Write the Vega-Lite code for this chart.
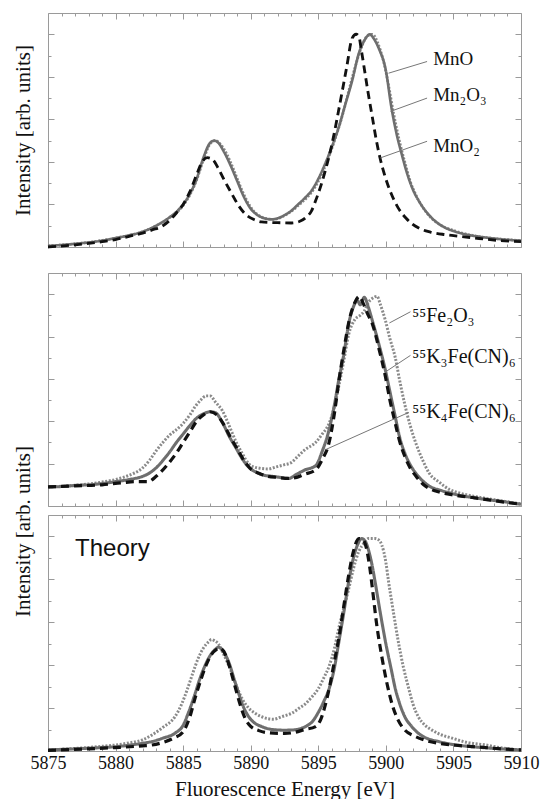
{
  "$schema": "https://vega.github.io/schema/vega-lite/v6.json",
  "background": "white",
  "padding": {"left": 12, "top": 12, "right": 2, "bottom": 2},
  "config": {
    "view": {"stroke": null},
    "axis": {"grid": false, "domainColor": "#9a9a9a", "tickColor": "#9a9a9a", "tickWidth": 1, "domainWidth": 1,
      "labelFont": "Liberation Serif", "titleFont": "Liberation Serif", "titleFontWeight": "normal",
      "titleColor": "#111111", "labelColor": "#111111"}
  },
  "datasets": {
    "top": [
      {"s":"Mn2O3","x":5875,"y":0.005},{"s":"Mn2O3","x":5878,"y":0.022},{"s":"Mn2O3","x":5880,"y":0.042},{"s":"Mn2O3","x":5882,"y":0.072},{"s":"Mn2O3","x":5883,"y":0.1},{"s":"Mn2O3","x":5884,"y":0.138},{"s":"Mn2O3","x":5885,"y":0.195},{"s":"Mn2O3","x":5885.5,"y":0.245},{"s":"Mn2O3","x":5886,"y":0.315},{"s":"Mn2O3","x":5886.5,"y":0.41},{"s":"Mn2O3","x":5887,"y":0.485},{"s":"Mn2O3","x":5887.4,"y":0.5},{"s":"Mn2O3","x":5887.8,"y":0.48},{"s":"Mn2O3","x":5888.2,"y":0.44},{"s":"Mn2O3","x":5888.7,"y":0.37},{"s":"Mn2O3","x":5889.2,"y":0.29},{"s":"Mn2O3","x":5889.7,"y":0.22},{"s":"Mn2O3","x":5890.2,"y":0.17},{"s":"Mn2O3","x":5890.7,"y":0.145},{"s":"Mn2O3","x":5891.2,"y":0.133},{"s":"Mn2O3","x":5891.7,"y":0.13},{"s":"Mn2O3","x":5892.2,"y":0.138},{"s":"Mn2O3","x":5892.7,"y":0.155},{"s":"Mn2O3","x":5893.2,"y":0.178},{"s":"Mn2O3","x":5893.7,"y":0.205},{"s":"Mn2O3","x":5894.2,"y":0.235},{"s":"Mn2O3","x":5894.7,"y":0.275},{"s":"Mn2O3","x":5895.2,"y":0.335},{"s":"Mn2O3","x":5895.7,"y":0.41},{"s":"Mn2O3","x":5896.2,"y":0.5},{"s":"Mn2O3","x":5896.7,"y":0.6},{"s":"Mn2O3","x":5897.2,"y":0.72},{"s":"Mn2O3","x":5897.7,"y":0.84},{"s":"Mn2O3","x":5898.2,"y":0.94},{"s":"Mn2O3","x":5898.6,"y":0.99},{"s":"Mn2O3","x":5899,"y":1.0},{"s":"Mn2O3","x":5899.4,"y":0.96},{"s":"Mn2O3","x":5899.8,"y":0.88},{"s":"Mn2O3","x":5900.2,"y":0.76},{"s":"Mn2O3","x":5900.6,"y":0.62},{"s":"Mn2O3","x":5901,"y":0.5},{"s":"Mn2O3","x":5901.4,"y":0.4},{"s":"Mn2O3","x":5901.8,"y":0.31},{"s":"Mn2O3","x":5902.3,"y":0.235},{"s":"Mn2O3","x":5902.8,"y":0.18},{"s":"Mn2O3","x":5903.3,"y":0.14},{"s":"Mn2O3","x":5904,"y":0.105},{"s":"Mn2O3","x":5905,"y":0.078},{"s":"Mn2O3","x":5906,"y":0.06},{"s":"Mn2O3","x":5907,"y":0.048},{"s":"Mn2O3","x":5908,"y":0.04},{"s":"Mn2O3","x":5910,"y":0.03},
      {"s":"MnO","x":5875,"y":0.005},{"s":"MnO","x":5877,"y":0.015},{"s":"MnO","x":5879,"y":0.03},{"s":"MnO","x":5880,"y":0.042},{"s":"MnO","x":5881,"y":0.055},{"s":"MnO","x":5882,"y":0.072},{"s":"MnO","x":5883,"y":0.1},{"s":"MnO","x":5884,"y":0.14},{"s":"MnO","x":5884.5,"y":0.165},{"s":"MnO","x":5885,"y":0.2},{"s":"MnO","x":5885.5,"y":0.25},{"s":"MnO","x":5886,"y":0.32},{"s":"MnO","x":5886.5,"y":0.42},{"s":"MnO","x":5887,"y":0.49},{"s":"MnO","x":5887.3,"y":0.5},{"s":"MnO","x":5887.6,"y":0.49},{"s":"MnO","x":5888,"y":0.45},{"s":"MnO","x":5888.5,"y":0.385},{"s":"MnO","x":5889,"y":0.31},{"s":"MnO","x":5889.5,"y":0.235},{"s":"MnO","x":5890,"y":0.18},{"s":"MnO","x":5890.5,"y":0.15},{"s":"MnO","x":5891,"y":0.135},{"s":"MnO","x":5891.5,"y":0.13},{"s":"MnO","x":5892,"y":0.135},{"s":"MnO","x":5892.5,"y":0.15},{"s":"MnO","x":5893,"y":0.17},{"s":"MnO","x":5893.5,"y":0.2},{"s":"MnO","x":5894,"y":0.23},{"s":"MnO","x":5894.5,"y":0.265},{"s":"MnO","x":5895,"y":0.32},{"s":"MnO","x":5895.5,"y":0.39},{"s":"MnO","x":5896,"y":0.47},{"s":"MnO","x":5896.5,"y":0.56},{"s":"MnO","x":5897,"y":0.67},{"s":"MnO","x":5897.5,"y":0.78},{"s":"MnO","x":5898,"y":0.91},{"s":"MnO","x":5898.5,"y":0.98},{"s":"MnO","x":5898.8,"y":1.0},{"s":"MnO","x":5899.1,"y":0.98},{"s":"MnO","x":5899.5,"y":0.93},{"s":"MnO","x":5900,"y":0.83},{"s":"MnO","x":5900.4,"y":0.66},{"s":"MnO","x":5900.8,"y":0.53},{"s":"MnO","x":5901.2,"y":0.43},{"s":"MnO","x":5901.6,"y":0.34},{"s":"MnO","x":5902,"y":0.27},{"s":"MnO","x":5902.5,"y":0.21},{"s":"MnO","x":5903,"y":0.165},{"s":"MnO","x":5903.5,"y":0.13},{"s":"MnO","x":5904,"y":0.105},{"s":"MnO","x":5904.5,"y":0.087},{"s":"MnO","x":5905,"y":0.075},{"s":"MnO","x":5906,"y":0.058},{"s":"MnO","x":5907,"y":0.048},{"s":"MnO","x":5908,"y":0.04},{"s":"MnO","x":5909,"y":0.034},{"s":"MnO","x":5910,"y":0.03},
      {"s":"MnO2","x":5875,"y":0.0},{"s":"MnO2","x":5877,"y":0.01},{"s":"MnO2","x":5879,"y":0.025},{"s":"MnO2","x":5880,"y":0.035},{"s":"MnO2","x":5881,"y":0.05},{"s":"MnO2","x":5882,"y":0.065},{"s":"MnO2","x":5882.7,"y":0.08},{"s":"MnO2","x":5883.5,"y":0.1},{"s":"MnO2","x":5884,"y":0.125},{"s":"MnO2","x":5884.5,"y":0.16},{"s":"MnO2","x":5885,"y":0.2},{"s":"MnO2","x":5885.5,"y":0.26},{"s":"MnO2","x":5886,"y":0.34},{"s":"MnO2","x":5886.4,"y":0.4},{"s":"MnO2","x":5886.8,"y":0.42},{"s":"MnO2","x":5887.2,"y":0.41},{"s":"MnO2","x":5887.6,"y":0.37},{"s":"MnO2","x":5888,"y":0.32},{"s":"MnO2","x":5888.6,"y":0.25},{"s":"MnO2","x":5889.1,"y":0.195},{"s":"MnO2","x":5889.6,"y":0.155},{"s":"MnO2","x":5890.2,"y":0.13},{"s":"MnO2","x":5890.8,"y":0.118},{"s":"MnO2","x":5891.5,"y":0.115},{"s":"MnO2","x":5892.2,"y":0.114},{"s":"MnO2","x":5893,"y":0.113},{"s":"MnO2","x":5893.6,"y":0.12},{"s":"MnO2","x":5894.1,"y":0.14},{"s":"MnO2","x":5894.5,"y":0.17},{"s":"MnO2","x":5894.8,"y":0.217},{"s":"MnO2","x":5895.2,"y":0.29},{"s":"MnO2","x":5895.65,"y":0.39},{"s":"MnO2","x":5896,"y":0.48},{"s":"MnO2","x":5896.5,"y":0.64},{"s":"MnO2","x":5897.1,"y":0.845},{"s":"MnO2","x":5897.5,"y":0.98},{"s":"MnO2","x":5897.8,"y":1.0},{"s":"MnO2","x":5898,"y":0.99},{"s":"MnO2","x":5898.2,"y":0.92},{"s":"MnO2","x":5898.5,"y":0.8},{"s":"MnO2","x":5898.7,"y":0.72},{"s":"MnO2","x":5899,"y":0.61},{"s":"MnO2","x":5899.3,"y":0.5},{"s":"MnO2","x":5899.6,"y":0.41},{"s":"MnO2","x":5899.95,"y":0.33},{"s":"MnO2","x":5900.4,"y":0.25},{"s":"MnO2","x":5900.9,"y":0.185},{"s":"MnO2","x":5901.5,"y":0.135},{"s":"MnO2","x":5902.4,"y":0.09},{"s":"MnO2","x":5903.3,"y":0.07},{"s":"MnO2","x":5904.4,"y":0.058},{"s":"MnO2","x":5905.5,"y":0.05},{"s":"MnO2","x":5906.9,"y":0.04},{"s":"MnO2","x":5908.5,"y":0.03},{"s":"MnO2","x":5910,"y":0.025}
    ],
    "mid": [
      {"s":"Fe2O3","x":5875,"y":0.09},{"s":"Fe2O3","x":5876,"y":0.093},{"s":"Fe2O3","x":5877,"y":0.098},{"s":"Fe2O3","x":5878,"y":0.104},{"s":"Fe2O3","x":5879,"y":0.113},{"s":"Fe2O3","x":5880,"y":0.125},{"s":"Fe2O3","x":5881,"y":0.145},{"s":"Fe2O3","x":5882,"y":0.18},{"s":"Fe2O3","x":5882.5,"y":0.215},{"s":"Fe2O3","x":5883,"y":0.26},{"s":"Fe2O3","x":5883.5,"y":0.3},{"s":"Fe2O3","x":5884,"y":0.335},{"s":"Fe2O3","x":5884.5,"y":0.36},{"s":"Fe2O3","x":5885,"y":0.39},{"s":"Fe2O3","x":5885.5,"y":0.43},{"s":"Fe2O3","x":5885.9,"y":0.47},{"s":"Fe2O3","x":5886.3,"y":0.5},{"s":"Fe2O3","x":5886.7,"y":0.52},{"s":"Fe2O3","x":5887,"y":0.52},{"s":"Fe2O3","x":5887.4,"y":0.49},{"s":"Fe2O3","x":5887.9,"y":0.45},{"s":"Fe2O3","x":5888.4,"y":0.38},{"s":"Fe2O3","x":5888.9,"y":0.305},{"s":"Fe2O3","x":5889.4,"y":0.245},{"s":"Fe2O3","x":5889.85,"y":0.2},{"s":"Fe2O3","x":5890.5,"y":0.18},{"s":"Fe2O3","x":5891.3,"y":0.175},{"s":"Fe2O3","x":5891.9,"y":0.185},{"s":"Fe2O3","x":5892.5,"y":0.195},{"s":"Fe2O3","x":5893,"y":0.205},{"s":"Fe2O3","x":5893.5,"y":0.235},{"s":"Fe2O3","x":5894,"y":0.265},{"s":"Fe2O3","x":5894.8,"y":0.3},{"s":"Fe2O3","x":5895.3,"y":0.34},{"s":"Fe2O3","x":5895.8,"y":0.39},{"s":"Fe2O3","x":5896.2,"y":0.47},{"s":"Fe2O3","x":5896.5,"y":0.56},{"s":"Fe2O3","x":5896.9,"y":0.69},{"s":"Fe2O3","x":5897.25,"y":0.81},{"s":"Fe2O3","x":5897.7,"y":0.88},{"s":"Fe2O3","x":5898.1,"y":0.9},{"s":"Fe2O3","x":5898.4,"y":0.92},{"s":"Fe2O3","x":5898.7,"y":0.96},{"s":"Fe2O3","x":5899,"y":0.98},{"s":"Fe2O3","x":5899.35,"y":0.99},{"s":"Fe2O3","x":5899.6,"y":0.95},{"s":"Fe2O3","x":5899.97,"y":0.875},{"s":"Fe2O3","x":5900.3,"y":0.79},{"s":"Fe2O3","x":5900.7,"y":0.7},{"s":"Fe2O3","x":5901,"y":0.6},{"s":"Fe2O3","x":5901.4,"y":0.48},{"s":"Fe2O3","x":5901.8,"y":0.38},{"s":"Fe2O3","x":5902.2,"y":0.3},{"s":"Fe2O3","x":5902.7,"y":0.22},{"s":"Fe2O3","x":5903.2,"y":0.156},{"s":"Fe2O3","x":5904,"y":0.11},{"s":"Fe2O3","x":5904.7,"y":0.078},{"s":"Fe2O3","x":5905.5,"y":0.06},{"s":"Fe2O3","x":5906.4,"y":0.047},{"s":"Fe2O3","x":5907.5,"y":0.035},{"s":"Fe2O3","x":5908.8,"y":0.022},{"s":"Fe2O3","x":5910,"y":0.01},
      {"s":"K3Fe(CN)6","x":5875,"y":0.09},{"s":"K3Fe(CN)6","x":5876,"y":0.092},{"s":"K3Fe(CN)6","x":5877,"y":0.097},{"s":"K3Fe(CN)6","x":5878,"y":0.1},{"s":"K3Fe(CN)6","x":5879,"y":0.106},{"s":"K3Fe(CN)6","x":5880,"y":0.115},{"s":"K3Fe(CN)6","x":5881,"y":0.125},{"s":"K3Fe(CN)6","x":5882,"y":0.14},{"s":"K3Fe(CN)6","x":5882.5,"y":0.155},{"s":"K3Fe(CN)6","x":5883,"y":0.18},{"s":"K3Fe(CN)6","x":5883.5,"y":0.215},{"s":"K3Fe(CN)6","x":5884,"y":0.255},{"s":"K3Fe(CN)6","x":5884.5,"y":0.3},{"s":"K3Fe(CN)6","x":5885,"y":0.34},{"s":"K3Fe(CN)6","x":5885.5,"y":0.38},{"s":"K3Fe(CN)6","x":5886,"y":0.415},{"s":"K3Fe(CN)6","x":5886.5,"y":0.435},{"s":"K3Fe(CN)6","x":5887,"y":0.445},{"s":"K3Fe(CN)6","x":5887.4,"y":0.44},{"s":"K3Fe(CN)6","x":5887.9,"y":0.395},{"s":"K3Fe(CN)6","x":5888.4,"y":0.33},{"s":"K3Fe(CN)6","x":5888.9,"y":0.275},{"s":"K3Fe(CN)6","x":5889.4,"y":0.22},{"s":"K3Fe(CN)6","x":5889.9,"y":0.18},{"s":"K3Fe(CN)6","x":5890.4,"y":0.16},{"s":"K3Fe(CN)6","x":5891,"y":0.145},{"s":"K3Fe(CN)6","x":5891.6,"y":0.14},{"s":"K3Fe(CN)6","x":5892.2,"y":0.135},{"s":"K3Fe(CN)6","x":5892.8,"y":0.13},{"s":"K3Fe(CN)6","x":5893.4,"y":0.15},{"s":"K3Fe(CN)6","x":5894,"y":0.17},{"s":"K3Fe(CN)6","x":5894.8,"y":0.19},{"s":"K3Fe(CN)6","x":5895.3,"y":0.26},{"s":"K3Fe(CN)6","x":5895.8,"y":0.36},{"s":"K3Fe(CN)6","x":5896.2,"y":0.48},{"s":"K3Fe(CN)6","x":5896.5,"y":0.59},{"s":"K3Fe(CN)6","x":5896.9,"y":0.72},{"s":"K3Fe(CN)6","x":5897.25,"y":0.86},{"s":"K3Fe(CN)6","x":5897.6,"y":0.94},{"s":"K3Fe(CN)6","x":5897.9,"y":0.97},{"s":"K3Fe(CN)6","x":5898.1,"y":0.95},{"s":"K3Fe(CN)6","x":5898.4,"y":0.985},{"s":"K3Fe(CN)6","x":5898.7,"y":0.94},{"s":"K3Fe(CN)6","x":5899,"y":0.875},{"s":"K3Fe(CN)6","x":5899.5,"y":0.76},{"s":"K3Fe(CN)6","x":5899.97,"y":0.64},{"s":"K3Fe(CN)6","x":5900.3,"y":0.54},{"s":"K3Fe(CN)6","x":5900.7,"y":0.42},{"s":"K3Fe(CN)6","x":5901,"y":0.33},{"s":"K3Fe(CN)6","x":5901.4,"y":0.25},{"s":"K3Fe(CN)6","x":5901.8,"y":0.195},{"s":"K3Fe(CN)6","x":5902.2,"y":0.156},{"s":"K3Fe(CN)6","x":5902.7,"y":0.12},{"s":"K3Fe(CN)6","x":5903.2,"y":0.094},{"s":"K3Fe(CN)6","x":5904,"y":0.075},{"s":"K3Fe(CN)6","x":5904.7,"y":0.0625},{"s":"K3Fe(CN)6","x":5905.5,"y":0.05},{"s":"K3Fe(CN)6","x":5906.4,"y":0.04},{"s":"K3Fe(CN)6","x":5907.5,"y":0.03},{"s":"K3Fe(CN)6","x":5908.85,"y":0.019},{"s":"K3Fe(CN)6","x":5910,"y":0.008},
      {"s":"K4Fe(CN)6","x":5875,"y":0.09},{"s":"K4Fe(CN)6","x":5877,"y":0.095},{"s":"K4Fe(CN)6","x":5879,"y":0.1},{"s":"K4Fe(CN)6","x":5880.5,"y":0.11},{"s":"K4Fe(CN)6","x":5881.5,"y":0.115},{"s":"K4Fe(CN)6","x":5882.4,"y":0.115},{"s":"K4Fe(CN)6","x":5883,"y":0.14},{"s":"K4Fe(CN)6","x":5883.9,"y":0.2},{"s":"K4Fe(CN)6","x":5884.5,"y":0.25},{"s":"K4Fe(CN)6","x":5885,"y":0.3},{"s":"K4Fe(CN)6","x":5885.5,"y":0.35},{"s":"K4Fe(CN)6","x":5886,"y":0.4},{"s":"K4Fe(CN)6","x":5886.5,"y":0.43},{"s":"K4Fe(CN)6","x":5887,"y":0.445},{"s":"K4Fe(CN)6","x":5887.5,"y":0.43},{"s":"K4Fe(CN)6","x":5888,"y":0.385},{"s":"K4Fe(CN)6","x":5888.5,"y":0.325},{"s":"K4Fe(CN)6","x":5889,"y":0.27},{"s":"K4Fe(CN)6","x":5889.5,"y":0.215},{"s":"K4Fe(CN)6","x":5890,"y":0.175},{"s":"K4Fe(CN)6","x":5890.6,"y":0.155},{"s":"K4Fe(CN)6","x":5891.3,"y":0.14},{"s":"K4Fe(CN)6","x":5892,"y":0.135},{"s":"K4Fe(CN)6","x":5892.8,"y":0.13},{"s":"K4Fe(CN)6","x":5893.4,"y":0.135},{"s":"K4Fe(CN)6","x":5894,"y":0.15},{"s":"K4Fe(CN)6","x":5894.8,"y":0.17},{"s":"K4Fe(CN)6","x":5895.3,"y":0.22},{"s":"K4Fe(CN)6","x":5895.8,"y":0.3},{"s":"K4Fe(CN)6","x":5896.2,"y":0.44},{"s":"K4Fe(CN)6","x":5896.5,"y":0.58},{"s":"K4Fe(CN)6","x":5896.9,"y":0.74},{"s":"K4Fe(CN)6","x":5897.3,"y":0.88},{"s":"K4Fe(CN)6","x":5897.7,"y":0.96},{"s":"K4Fe(CN)6","x":5898.05,"y":0.99},{"s":"K4Fe(CN)6","x":5898.3,"y":0.96},{"s":"K4Fe(CN)6","x":5898.7,"y":0.9},{"s":"K4Fe(CN)6","x":5899,"y":0.86},{"s":"K4Fe(CN)6","x":5899.5,"y":0.74},{"s":"K4Fe(CN)6","x":5899.97,"y":0.61},{"s":"K4Fe(CN)6","x":5900.3,"y":0.5},{"s":"K4Fe(CN)6","x":5900.7,"y":0.39},{"s":"K4Fe(CN)6","x":5901,"y":0.31},{"s":"K4Fe(CN)6","x":5901.4,"y":0.235},{"s":"K4Fe(CN)6","x":5901.8,"y":0.18},{"s":"K4Fe(CN)6","x":5902.3,"y":0.135},{"s":"K4Fe(CN)6","x":5902.8,"y":0.1},{"s":"K4Fe(CN)6","x":5903.3,"y":0.08},{"s":"K4Fe(CN)6","x":5904,"y":0.065},{"s":"K4Fe(CN)6","x":5905,"y":0.052},{"s":"K4Fe(CN)6","x":5906.4,"y":0.04},{"s":"K4Fe(CN)6","x":5907.5,"y":0.03},{"s":"K4Fe(CN)6","x":5908.8,"y":0.018},{"s":"K4Fe(CN)6","x":5910,"y":0.008}
    ],
    "bot": [
      {"s":"Fe2O3","x":5875,"y":0.005},{"s":"Fe2O3","x":5877,"y":0.012},{"s":"Fe2O3","x":5879,"y":0.022},{"s":"Fe2O3","x":5880,"y":0.028},{"s":"Fe2O3","x":5881,"y":0.038},{"s":"Fe2O3","x":5882,"y":0.052},{"s":"Fe2O3","x":5882.7,"y":0.075},{"s":"Fe2O3","x":5883.5,"y":0.11},{"s":"Fe2O3","x":5884.4,"y":0.16},{"s":"Fe2O3","x":5884.9,"y":0.22},{"s":"Fe2O3","x":5885.3,"y":0.286},{"s":"Fe2O3","x":5885.7,"y":0.36},{"s":"Fe2O3","x":5886.1,"y":0.43},{"s":"Fe2O3","x":5886.5,"y":0.48},{"s":"Fe2O3","x":5886.9,"y":0.51},{"s":"Fe2O3","x":5887.1,"y":0.52},{"s":"Fe2O3","x":5887.3,"y":0.515},{"s":"Fe2O3","x":5887.6,"y":0.5},{"s":"Fe2O3","x":5888,"y":0.45},{"s":"Fe2O3","x":5888.4,"y":0.395},{"s":"Fe2O3","x":5888.9,"y":0.31},{"s":"Fe2O3","x":5889.4,"y":0.24},{"s":"Fe2O3","x":5889.85,"y":0.2},{"s":"Fe2O3","x":5890.3,"y":0.177},{"s":"Fe2O3","x":5890.8,"y":0.16},{"s":"Fe2O3","x":5891.3,"y":0.15},{"s":"Fe2O3","x":5891.7,"y":0.148},{"s":"Fe2O3","x":5892.3,"y":0.16},{"s":"Fe2O3","x":5893.06,"y":0.177},{"s":"Fe2O3","x":5893.6,"y":0.2},{"s":"Fe2O3","x":5894.05,"y":0.22},{"s":"Fe2O3","x":5894.5,"y":0.25},{"s":"Fe2O3","x":5895,"y":0.29},{"s":"Fe2O3","x":5895.4,"y":0.34},{"s":"Fe2O3","x":5895.8,"y":0.395},{"s":"Fe2O3","x":5896.2,"y":0.48},{"s":"Fe2O3","x":5896.5,"y":0.567},{"s":"Fe2O3","x":5896.9,"y":0.67},{"s":"Fe2O3","x":5897.25,"y":0.755},{"s":"Fe2O3","x":5897.6,"y":0.85},{"s":"Fe2O3","x":5898,"y":0.93},{"s":"Fe2O3","x":5898.4,"y":0.97},{"s":"Fe2O3","x":5898.7,"y":0.99},{"s":"Fe2O3","x":5899.2,"y":0.99},{"s":"Fe2O3","x":5899.45,"y":0.985},{"s":"Fe2O3","x":5899.7,"y":0.96},{"s":"Fe2O3","x":5900,"y":0.88},{"s":"Fe2O3","x":5900.2,"y":0.79},{"s":"Fe2O3","x":5900.5,"y":0.67},{"s":"Fe2O3","x":5900.95,"y":0.5},{"s":"Fe2O3","x":5901.3,"y":0.39},{"s":"Fe2O3","x":5901.7,"y":0.29},{"s":"Fe2O3","x":5902,"y":0.22},{"s":"Fe2O3","x":5902.4,"y":0.16},{"s":"Fe2O3","x":5902.9,"y":0.12},{"s":"Fe2O3","x":5903.4,"y":0.098},{"s":"Fe2O3","x":5904,"y":0.078},{"s":"Fe2O3","x":5904.9,"y":0.06},{"s":"Fe2O3","x":5906,"y":0.04},{"s":"Fe2O3","x":5907.4,"y":0.028},{"s":"Fe2O3","x":5908.5,"y":0.015},{"s":"Fe2O3","x":5910,"y":0.005},
      {"s":"K3Fe(CN)6","x":5875,"y":0.005},{"s":"K3Fe(CN)6","x":5877,"y":0.01},{"s":"K3Fe(CN)6","x":5879,"y":0.016},{"s":"K3Fe(CN)6","x":5880,"y":0.02},{"s":"K3Fe(CN)6","x":5881,"y":0.027},{"s":"K3Fe(CN)6","x":5882,"y":0.036},{"s":"K3Fe(CN)6","x":5882.7,"y":0.044},{"s":"K3Fe(CN)6","x":5883.5,"y":0.06},{"s":"K3Fe(CN)6","x":5884.4,"y":0.083},{"s":"K3Fe(CN)6","x":5885,"y":0.12},{"s":"K3Fe(CN)6","x":5885.4,"y":0.18},{"s":"K3Fe(CN)6","x":5885.9,"y":0.27},{"s":"K3Fe(CN)6","x":5886.2,"y":0.33},{"s":"K3Fe(CN)6","x":5886.6,"y":0.395},{"s":"K3Fe(CN)6","x":5887,"y":0.445},{"s":"K3Fe(CN)6","x":5887.4,"y":0.475},{"s":"K3Fe(CN)6","x":5887.6,"y":0.484},{"s":"K3Fe(CN)6","x":5887.9,"y":0.47},{"s":"K3Fe(CN)6","x":5888.4,"y":0.41},{"s":"K3Fe(CN)6","x":5888.8,"y":0.33},{"s":"K3Fe(CN)6","x":5889.1,"y":0.27},{"s":"K3Fe(CN)6","x":5889.5,"y":0.2},{"s":"K3Fe(CN)6","x":5889.85,"y":0.16},{"s":"K3Fe(CN)6","x":5890.3,"y":0.13},{"s":"K3Fe(CN)6","x":5890.8,"y":0.114},{"s":"K3Fe(CN)6","x":5891.6,"y":0.1},{"s":"K3Fe(CN)6","x":5892.5,"y":0.097},{"s":"K3Fe(CN)6","x":5893.1,"y":0.098},{"s":"K3Fe(CN)6","x":5894.05,"y":0.114},{"s":"K3Fe(CN)6","x":5894.6,"y":0.14},{"s":"K3Fe(CN)6","x":5895,"y":0.18},{"s":"K3Fe(CN)6","x":5895.4,"y":0.23},{"s":"K3Fe(CN)6","x":5895.8,"y":0.29},{"s":"K3Fe(CN)6","x":5896.2,"y":0.39},{"s":"K3Fe(CN)6","x":5896.5,"y":0.5},{"s":"K3Fe(CN)6","x":5896.9,"y":0.65},{"s":"K3Fe(CN)6","x":5897.25,"y":0.79},{"s":"K3Fe(CN)6","x":5897.6,"y":0.9},{"s":"K3Fe(CN)6","x":5897.9,"y":0.96},{"s":"K3Fe(CN)6","x":5898.2,"y":0.99},{"s":"K3Fe(CN)6","x":5898.5,"y":0.975},{"s":"K3Fe(CN)6","x":5898.7,"y":0.94},{"s":"K3Fe(CN)6","x":5899,"y":0.86},{"s":"K3Fe(CN)6","x":5899.2,"y":0.79},{"s":"K3Fe(CN)6","x":5899.6,"y":0.64},{"s":"K3Fe(CN)6","x":5900,"y":0.5},{"s":"K3Fe(CN)6","x":5900.4,"y":0.38},{"s":"K3Fe(CN)6","x":5900.7,"y":0.29},{"s":"K3Fe(CN)6","x":5901,"y":0.225},{"s":"K3Fe(CN)6","x":5901.4,"y":0.16},{"s":"K3Fe(CN)6","x":5901.9,"y":0.115},{"s":"K3Fe(CN)6","x":5902.4,"y":0.083},{"s":"K3Fe(CN)6","x":5903,"y":0.06},{"s":"K3Fe(CN)6","x":5903.9,"y":0.044},{"s":"K3Fe(CN)6","x":5905,"y":0.03},{"s":"K3Fe(CN)6","x":5906.4,"y":0.02},{"s":"K3Fe(CN)6","x":5908,"y":0.012},{"s":"K3Fe(CN)6","x":5910,"y":0.005},
      {"s":"K4Fe(CN)6","x":5875,"y":0.003},{"s":"K4Fe(CN)6","x":5878,"y":0.01},{"s":"K4Fe(CN)6","x":5880,"y":0.016},{"s":"K4Fe(CN)6","x":5882,"y":0.024},{"s":"K4Fe(CN)6","x":5882.7,"y":0.028},{"s":"K4Fe(CN)6","x":5883.5,"y":0.04},{"s":"K4Fe(CN)6","x":5884.3,"y":0.06},{"s":"K4Fe(CN)6","x":5885,"y":0.09},{"s":"K4Fe(CN)6","x":5885.5,"y":0.16},{"s":"K4Fe(CN)6","x":5885.9,"y":0.25},{"s":"K4Fe(CN)6","x":5886.3,"y":0.33},{"s":"K4Fe(CN)6","x":5886.7,"y":0.4},{"s":"K4Fe(CN)6","x":5887.1,"y":0.45},{"s":"K4Fe(CN)6","x":5887.5,"y":0.475},{"s":"K4Fe(CN)6","x":5887.7,"y":0.48},{"s":"K4Fe(CN)6","x":5888,"y":0.465},{"s":"K4Fe(CN)6","x":5888.4,"y":0.4},{"s":"K4Fe(CN)6","x":5888.8,"y":0.31},{"s":"K4Fe(CN)6","x":5889.2,"y":0.22},{"s":"K4Fe(CN)6","x":5889.6,"y":0.15},{"s":"K4Fe(CN)6","x":5890,"y":0.115},{"s":"K4Fe(CN)6","x":5890.6,"y":0.095},{"s":"K4Fe(CN)6","x":5891.3,"y":0.085},{"s":"K4Fe(CN)6","x":5892.5,"y":0.082},{"s":"K4Fe(CN)6","x":5893.1,"y":0.085},{"s":"K4Fe(CN)6","x":5894,"y":0.1},{"s":"K4Fe(CN)6","x":5894.8,"y":0.114},{"s":"K4Fe(CN)6","x":5895.2,"y":0.15},{"s":"K4Fe(CN)6","x":5895.5,"y":0.21},{"s":"K4Fe(CN)6","x":5895.9,"y":0.32},{"s":"K4Fe(CN)6","x":5896.2,"y":0.42},{"s":"K4Fe(CN)6","x":5896.5,"y":0.52},{"s":"K4Fe(CN)6","x":5896.9,"y":0.68},{"s":"K4Fe(CN)6","x":5897.25,"y":0.82},{"s":"K4Fe(CN)6","x":5897.6,"y":0.93},{"s":"K4Fe(CN)6","x":5898,"y":0.99},{"s":"K4Fe(CN)6","x":5898.3,"y":0.985},{"s":"K4Fe(CN)6","x":5898.5,"y":0.96},{"s":"K4Fe(CN)6","x":5898.8,"y":0.86},{"s":"K4Fe(CN)6","x":5899,"y":0.76},{"s":"K4Fe(CN)6","x":5899.3,"y":0.6},{"s":"K4Fe(CN)6","x":5899.7,"y":0.44},{"s":"K4Fe(CN)6","x":5900.1,"y":0.31},{"s":"K4Fe(CN)6","x":5900.5,"y":0.21},{"s":"K4Fe(CN)6","x":5900.9,"y":0.145},{"s":"K4Fe(CN)6","x":5901.4,"y":0.098},{"s":"K4Fe(CN)6","x":5902.1,"y":0.07},{"s":"K4Fe(CN)6","x":5902.9,"y":0.05},{"s":"K4Fe(CN)6","x":5904,"y":0.035},{"s":"K4Fe(CN)6","x":5905.5,"y":0.025},{"s":"K4Fe(CN)6","x":5907,"y":0.018},{"s":"K4Fe(CN)6","x":5908.5,"y":0.01},{"s":"K4Fe(CN)6","x":5910,"y":0.005}
    ],
    "topLabels": [
      {"t":"MnO","x":5903.5,"y":0.885},
      {"t":"Mn₂O₃","x":5903.5,"y":0.715},
      {"t":"MnO₂","x":5903.5,"y":0.475}
    ],
    "topLeaders": [
      {"x":5900.2,"y":0.817,"x2":5903.05,"y2":0.872},
      {"x":5900.35,"y":0.6375,"x2":5903.05,"y2":0.7},
      {"x":5899.6,"y":0.419,"x2":5903.05,"y2":0.497}
    ],
    "midLabels": [
      {"t":"⁵⁵Fe₂O₃","x":5901.95,"y":0.895},
      {"t":"⁵⁵K₃Fe(CN)₆","x":5901.95,"y":0.703},
      {"t":"⁵⁵K₄Fe(CN)₆","x":5901.95,"y":0.445}
    ],
    "midLeaders": [
      {"x":5900.26,"y":0.864,"x2":5901.82,"y2":0.917},
      {"x":5899.97,"y":0.633,"x2":5901.82,"y2":0.711},
      {"x":5895.53,"y":0.266,"x2":5901.7,"y2":0.442}
    ],
    "botLabels": [
      {"t":"Theory","x":5877,"y":0.91}
    ]
  },
  "vconcat": [
    {
      "width": 473, "height": 234,
      "resolve": {"axis": {"x": "independent", "y": "independent"}},
      "layer": [
        {
          "data": {"name": "top"},
          "mark": {"type": "line", "interpolate": "monotone"},
          "encoding": {
            "x": {"field": "x", "type": "quantitative", "scale": {"domain": [5875, 5910], "nice": false, "zero": false},
              "axis": {"orient": "bottom", "values": [5875,5876,5877,5878,5879,5880,5881,5882,5883,5884,5885,5886,5887,5888,5889,5890,5891,5892,5893,5894,5895,5896,5897,5898,5899,5900,5901,5902,5903,5904,5905,5906,5907,5908,5909,5910],
                "labels": false, "title": null, "tickSize": {"condition": {"test": "datum.value % 5 === 0", "value": -6}, "value": -3}}},
            "y": {"field": "y", "type": "quantitative", "scale": {"domain": [0, 1.1], "nice": false},
              "axis": {"orient": "left", "values": [0,0.1,0.2,0.3,0.4,0.5,0.6,0.7,0.8,0.9,1.0], "labels": false,
                "tickSize": {"condition": {"test": "round(datum.value*10) % 2 === 0", "value": -6}, "value": -3},
                "title": "Intensity [arb. units]", "titleFontSize": 21, "titlePadding": 14}},
            "color": {"field": "s", "type": "nominal", "legend": null, "scale": {"domain": ["MnO","Mn2O3","MnO2","Fe2O3","K3Fe(CN)6","K4Fe(CN)6"], "range": ["#6e6e6e","#8a8a8a","#111111","#8a8a8a","#6e6e6e","#111111"]}},
            "strokeDash": {"field": "s", "type": "nominal", "legend": null, "scale": {"domain": ["MnO","Mn2O3","MnO2","Fe2O3","K3Fe(CN)6","K4Fe(CN)6"], "range": [[1,0],[2,1.6],[8,5],[2,1.6],[1,0],[8,5]]}},
            "strokeWidth": {"field": "s", "type": "nominal", "legend": null, "scale": {"domain": ["MnO","Mn2O3","MnO2","Fe2O3","K3Fe(CN)6","K4Fe(CN)6"], "range": [2.6,3.2,3.2,2.6,2.2,3.2]}}
          }
        },
        {
          "data": {"name": "topLeaders"},
          "mark": {"type": "rule", "color": "#777777", "strokeWidth": 1},
          "encoding": {
            "x": {"field": "x", "type": "quantitative", "axis": null, "scale": {"domain": [5875, 5910], "nice": false, "zero": false}},
            "y": {"field": "y", "type": "quantitative", "axis": null, "scale": {"domain": [0, 1.1], "nice": false}},
            "x2": {"field": "x2"}, "y2": {"field": "y2"}
          }
        },
        {
          "data": {"name": "topLabels"},
          "mark": {"type": "text", "align": "left", "baseline": "middle", "font": "Liberation Serif", "fontSize": 19, "color": "#111111"},
          "encoding": {
            "x": {"field": "x", "type": "quantitative", "axis": null, "scale": {"domain": [5875, 5910], "nice": false, "zero": false}},
            "y": {"field": "y", "type": "quantitative", "axis": null, "scale": {"domain": [0, 1.1], "nice": false}},
            "text": {"field": "t"}
          }
        },
        {
          "data": {"name": "topLeaders"},
          "mark": {"type": "point", "opacity": 0},
          "encoding": {
            "x": {"field": "x", "type": "quantitative", "scale": {"domain": [5875, 5910], "nice": false, "zero": false},
              "axis": {"orient": "top", "values": [5875,5876,5877,5878,5879,5880,5881,5882,5883,5884,5885,5886,5887,5888,5889,5890,5891,5892,5893,5894,5895,5896,5897,5898,5899,5900,5901,5902,5903,5904,5905,5906,5907,5908,5909,5910],
                "labels": false, "title": null, "tickSize": {"condition": {"test": "datum.value % 5 === 0", "value": -6}, "value": -3}}},
            "y": {"field": "y", "type": "quantitative", "scale": {"domain": [0, 1.1], "nice": false},
              "axis": {"orient": "right", "values": [0,0.1,0.2,0.3,0.4,0.5,0.6,0.7,0.8,0.9,1.0], "labels": false, "title": null,
                "tickSize": {"condition": {"test": "round(datum.value*10) % 2 === 0", "value": -6}, "value": -3}}}
          }
        }
      ]
    },
    {
      "spacing": 9,
      "bounds": "flush",
      "vconcat": [
        {
          "width": 473, "height": 233,
          "resolve": {"axis": {"x": "independent", "y": "independent"}},
          "layer": [
            {
              "data": {"name": "mid"},
              "mark": {"type": "line", "interpolate": "monotone"},
              "encoding": {
                "x": {"field": "x", "type": "quantitative", "scale": {"domain": [5875, 5910], "nice": false, "zero": false},
                  "axis": {"orient": "bottom", "values": [5875,5876,5877,5878,5879,5880,5881,5882,5883,5884,5885,5886,5887,5888,5889,5890,5891,5892,5893,5894,5895,5896,5897,5898,5899,5900,5901,5902,5903,5904,5905,5906,5907,5908,5909,5910],
                    "labels": false, "title": null, "tickSize": {"condition": {"test": "datum.value % 5 === 0", "value": -6}, "value": -3}}},
                "y": {"field": "y", "type": "quantitative", "scale": {"domain": [0, 1.1], "nice": false},
                  "axis": {"orient": "left", "values": [0,0.1,0.2,0.3,0.4,0.5,0.6,0.7,0.8,0.9,1.0], "labels": false, "title": null,
                    "tickSize": {"condition": {"test": "round(datum.value*10) % 2 === 0", "value": -6}, "value": -3}}},
                "color": {"field": "s", "type": "nominal", "legend": null, "scale": {"domain": ["MnO","Mn2O3","MnO2","Fe2O3","K3Fe(CN)6","K4Fe(CN)6"], "range": ["#6e6e6e","#8a8a8a","#111111","#8a8a8a","#6e6e6e","#111111"]}},
                "strokeDash": {"field": "s", "type": "nominal", "legend": null, "scale": {"domain": ["MnO","Mn2O3","MnO2","Fe2O3","K3Fe(CN)6","K4Fe(CN)6"], "range": [[1,0],[2,1.6],[8,5],[2,1.6],[1,0],[8,5]]}},
                "strokeWidth": {"field": "s", "type": "nominal", "legend": null, "scale": {"domain": ["MnO","Mn2O3","MnO2","Fe2O3","K3Fe(CN)6","K4Fe(CN)6"], "range": [2.6,3.2,3.2,2.6,2.2,3.2]}}
              }
            },
            {
              "data": {"name": "midLeaders"},
              "mark": {"type": "rule", "color": "#777777", "strokeWidth": 1},
              "encoding": {
                "x": {"field": "x", "type": "quantitative", "axis": null, "scale": {"domain": [5875, 5910], "nice": false, "zero": false}},
                "y": {"field": "y", "type": "quantitative", "axis": null, "scale": {"domain": [0, 1.1], "nice": false}},
                "x2": {"field": "x2"}, "y2": {"field": "y2"}
              }
            },
            {
              "data": {"name": "midLabels"},
              "mark": {"type": "text", "align": "left", "baseline": "middle", "font": "Liberation Serif", "fontSize": 20, "color": "#111111"},
              "encoding": {
                "x": {"field": "x", "type": "quantitative", "axis": null, "scale": {"domain": [5875, 5910], "nice": false, "zero": false}},
                "y": {"field": "y", "type": "quantitative", "axis": null, "scale": {"domain": [0, 1.1], "nice": false}},
                "text": {"field": "t"}
              }
            },
            {
              "data": {"name": "midLeaders"},
              "mark": {"type": "point", "opacity": 0},
              "encoding": {
                "x": {"field": "x", "type": "quantitative", "scale": {"domain": [5875, 5910], "nice": false, "zero": false},
                  "axis": {"orient": "top", "values": [5875,5876,5877,5878,5879,5880,5881,5882,5883,5884,5885,5886,5887,5888,5889,5890,5891,5892,5893,5894,5895,5896,5897,5898,5899,5900,5901,5902,5903,5904,5905,5906,5907,5908,5909,5910],
                    "labels": false, "title": null, "tickSize": {"condition": {"test": "datum.value % 5 === 0", "value": -6}, "value": -3}}},
                "y": {"field": "y", "type": "quantitative", "scale": {"domain": [0, 1.1], "nice": false},
                  "axis": {"orient": "right", "values": [0,0.1,0.2,0.3,0.4,0.5,0.6,0.7,0.8,0.9,1.0], "labels": false, "title": null,
                    "tickSize": {"condition": {"test": "round(datum.value*10) % 2 === 0", "value": -6}, "value": -3}}}
              }
            }
          ]
        },
        {
          "width": 473, "height": 236,
          "resolve": {"axis": {"x": "independent", "y": "independent"}},
          "layer": [
            {
              "data": {"name": "bot"},
              "mark": {"type": "line", "interpolate": "monotone"},
              "encoding": {
                "x": {"field": "x", "type": "quantitative", "scale": {"domain": [5875, 5910], "nice": false, "zero": false},
                  "axis": {"orient": "bottom", "values": [5875,5876,5877,5878,5879,5880,5881,5882,5883,5884,5885,5886,5887,5888,5889,5890,5891,5892,5893,5894,5895,5896,5897,5898,5899,5900,5901,5902,5903,5904,5905,5906,5907,5908,5909,5910],
                    "format": "d", "labelExpr": "datum.value % 5 === 0 ? datum.label : ''", "labelFlush": false, "labelOverlap": false,
                    "labelFontSize": 18, "labelPadding": 9,
                    "title": "Fluorescence Energy [eV]", "titleFontSize": 21, "titlePadding": 3,
                    "tickSize": {"condition": {"test": "datum.value % 5 === 0", "value": -6}, "value": -3}}},
                "y": {"field": "y", "type": "quantitative", "scale": {"domain": [0, 1.1], "nice": false},
                  "axis": {"orient": "left", "values": [0,0.1,0.2,0.3,0.4,0.5,0.6,0.7,0.8,0.9,1.0], "labels": false,
                    "title": "Intensity [arb. units]", "titleFontSize": 21, "titlePadding": 14, "titleY": 16,
                    "tickSize": {"condition": {"test": "round(datum.value*10) % 2 === 0", "value": -6}, "value": -3}}},
                "color": {"field": "s", "type": "nominal", "legend": null, "scale": {"domain": ["MnO","Mn2O3","MnO2","Fe2O3","K3Fe(CN)6","K4Fe(CN)6"], "range": ["#6e6e6e","#8a8a8a","#111111","#8a8a8a","#6e6e6e","#111111"]}},
                "strokeDash": {"field": "s", "type": "nominal", "legend": null, "scale": {"domain": ["MnO","Mn2O3","MnO2","Fe2O3","K3Fe(CN)6","K4Fe(CN)6"], "range": [[1,0],[2,1.6],[8,5],[2,1.6],[1,0],[8,5]]}},
                "strokeWidth": {"field": "s", "type": "nominal", "legend": null, "scale": {"domain": ["MnO","Mn2O3","MnO2","Fe2O3","K3Fe(CN)6","K4Fe(CN)6"], "range": [2.6,3.2,3.2,2.6,2.2,3.2]}}
              }
            },
            {
              "data": {"name": "botLabels"},
              "mark": {"type": "text", "align": "left", "baseline": "alphabetic", "font": "Liberation Sans", "fontSize": 24, "color": "#111111"},
              "encoding": {
                "x": {"field": "x", "type": "quantitative", "axis": null, "scale": {"domain": [5875, 5910], "nice": false, "zero": false}},
                "y": {"field": "y", "type": "quantitative", "axis": null, "scale": {"domain": [0, 1.1], "nice": false}},
                "text": {"field": "t"}
              }
            },
            {
              "data": {"name": "botLabels"},
              "mark": {"type": "point", "opacity": 0},
              "encoding": {
                "x": {"field": "x", "type": "quantitative", "scale": {"domain": [5875, 5910], "nice": false, "zero": false},
                  "axis": {"orient": "top", "values": [5875,5876,5877,5878,5879,5880,5881,5882,5883,5884,5885,5886,5887,5888,5889,5890,5891,5892,5893,5894,5895,5896,5897,5898,5899,5900,5901,5902,5903,5904,5905,5906,5907,5908,5909,5910],
                    "labels": false, "title": null, "tickSize": {"condition": {"test": "datum.value % 5 === 0", "value": -6}, "value": -3}}},
                "y": {"field": "y", "type": "quantitative", "scale": {"domain": [0, 1.1], "nice": false},
                  "axis": {"orient": "right", "values": [0,0.1,0.2,0.3,0.4,0.5,0.6,0.7,0.8,0.9,1.0], "labels": false, "title": null,
                    "tickSize": {"condition": {"test": "round(datum.value*10) % 2 === 0", "value": -6}, "value": -3}}}
              }
            }
          ]
        }
      ]
    }
  ],
  "spacing": 26,
  "bounds": "flush"
}
